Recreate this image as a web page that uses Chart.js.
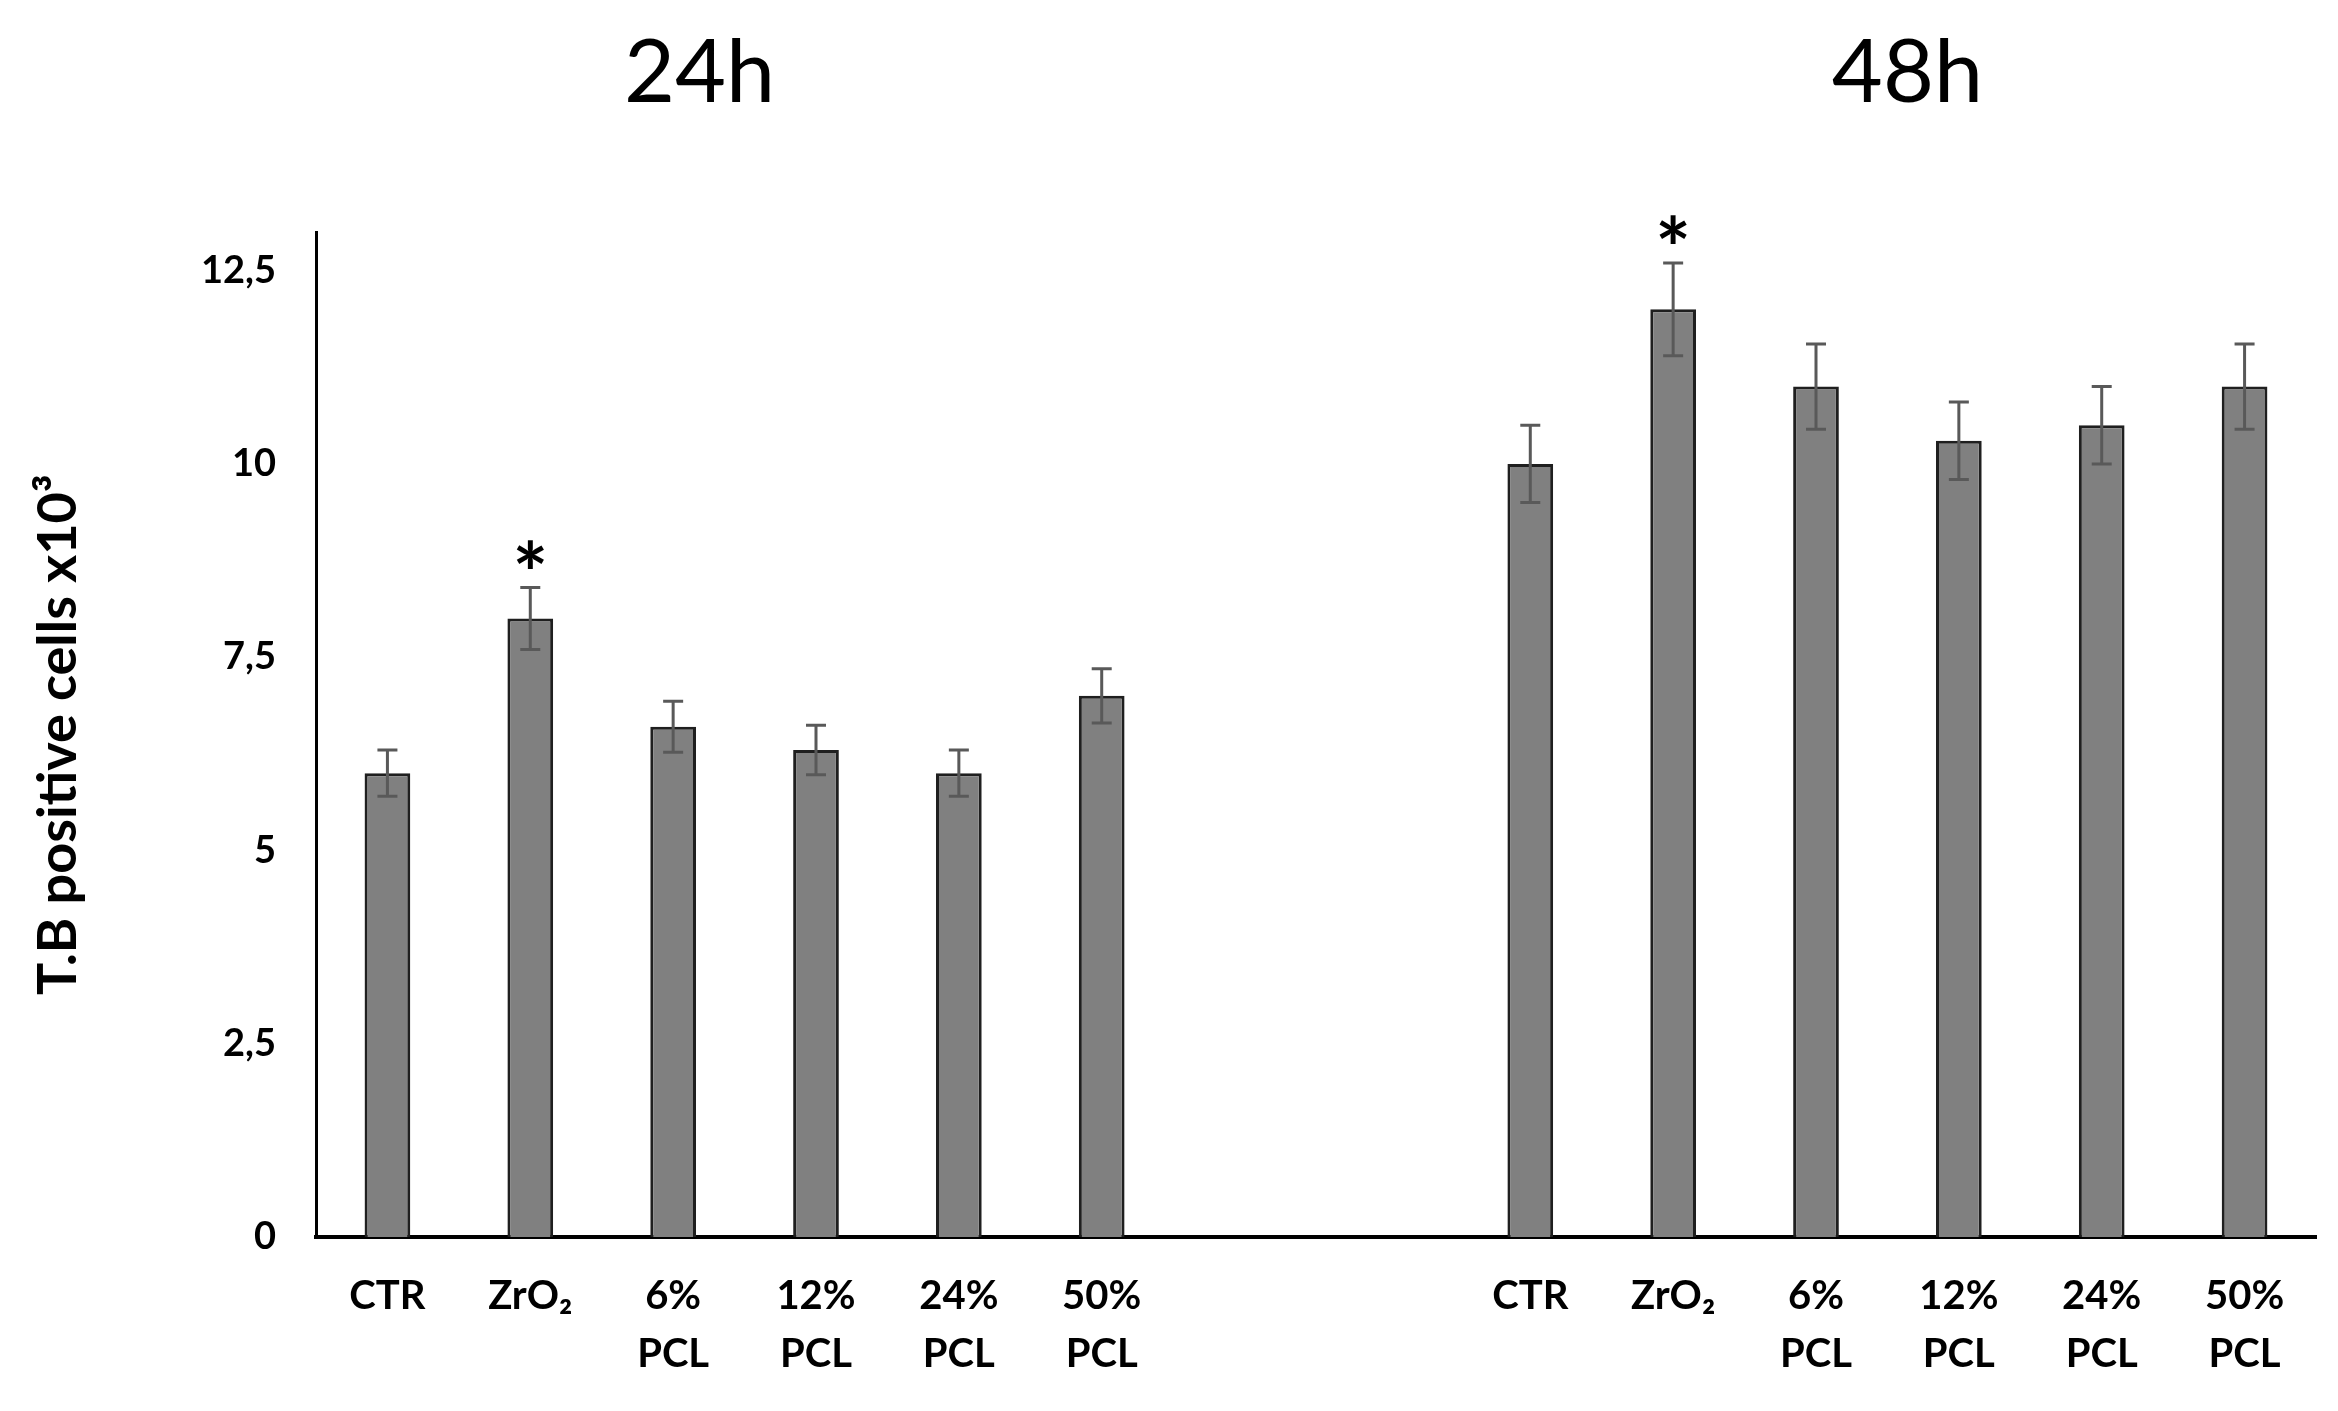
<!DOCTYPE html>
<html>
<head>
<meta charset="utf-8">
<script src="https://cdn.jsdelivr.net/npm/chart.js@4/dist/chart.umd.min.js"></script>
<style>
  html, body { margin: 0; padding: 0; background: #fff; }
  #wrap { width: 2338px; height: 1411px; }
</style>
</head>
<body>
<div id="wrap"><canvas id="tbChart" width="2338" height="1411"></canvas></div>
<script>
// categories (two empty slots separate the 24h and 48h groups)
const categories = [
    "CTR", "ZrO₂", ["6%", "PCL"], ["12%", "PCL"], ["24%", "PCL"], ["50%", "PCL"],
    "", "",
    "CTR", "ZrO₂", ["6%", "PCL"], ["12%", "PCL"], ["24%", "PCL"], ["50%", "PCL"]
];
const values = [6.0, 8.0, 6.6, 6.3, 6.0, 7.0, null, null, 10.0, 12.0, 11.0, 10.3, 10.5, 11.0];
const errors = [0.3, 0.4, 0.33, 0.32, 0.3, 0.35, null, null, 0.5, 0.6, 0.55, 0.5, 0.5, 0.55];
const significant = [false, true, false, false, false, false, false, false, false, true, false, false, false, false];
const groupTitles = ["24h", "48h"];
const groupRanges = [[0, 5], [8, 13]];
const yTicks = [0, 2.5, 5, 7.5, 10, 12.5];

const FONT = "Lato, 'Open Sans', sans-serif";
const titleShift = [-45, 20];   // small nudge so titles sit like the original

// error bars + asterisks + group titles
const extrasPlugin = {
    id: "extras",
    afterDatasetsDraw(chart) {
        const ctx = chart.ctx;
        const x = chart.scales.x;
        const y = chart.scales.y;
        ctx.save();
        ctx.strokeStyle = "#595959";
        ctx.lineWidth = 3;
        values.forEach((v, i) => {
            if (v === null) return;
            const px = x.getPixelForValue(i);
            const top = y.getPixelForValue(v + errors[i]);
            const bot = y.getPixelForValue(v - errors[i]);
            ctx.beginPath();
            ctx.moveTo(px, top); ctx.lineTo(px, bot);
            ctx.moveTo(px - 10, top); ctx.lineTo(px + 10, top);
            ctx.moveTo(px - 10, bot); ctx.lineTo(px + 10, bot);
            ctx.stroke();
            if (significant[i]) {
                ctx.fillStyle = "#000";
                ctx.font = "bold 84px " + FONT;
                ctx.textAlign = "center";
                ctx.textBaseline = "alphabetic";
                ctx.fillText("*", px, top + 16);
            }
        });
        ctx.fillStyle = "#000";
        ctx.font = "88px " + FONT;
        ctx.textAlign = "center";
        ctx.textBaseline = "alphabetic";
        groupTitles.forEach((t, g) => {
            const cx = (x.getPixelForValue(groupRanges[g][0]) + x.getPixelForValue(groupRanges[g][1])) / 2;
            ctx.fillText(t, cx + titleShift[g], 102);
        });
        ctx.restore();
    }
};

new Chart(document.getElementById("tbChart").getContext("2d"), {
    type: "bar",
    data: {
        labels: categories,
        datasets: [{
            data: values,
            backgroundColor: "#808080",
            borderColor: "#1f1f1f",
            borderWidth: 3,
            barPercentage: 1,
            categoryPercentage: 0.32
        }]
    },
    options: {
        responsive: false,
        devicePixelRatio: 1,
        animation: false,
        layout: { padding: { top: 232, right: 22, left: 0, bottom: 0 } },
        plugins: { legend: { display: false }, tooltip: { enabled: false } },
        scales: {
            x: {
                grid: { display: false, drawTicks: false },
                border: { color: "#000", width: 4 },
                ticks: {
                    color: "#000",
                    font: { family: FONT, size: 40, weight: "bold", lineHeight: 1.45 },
                    padding: 30,
                    maxRotation: 0,
                    autoSkip: false
                },
                afterFit(scale) { scale.height = 174; }
            },
            y: {
                min: 0,
                max: 13,
                grid: { display: false, drawTicks: false },
                border: { color: "#000", width: 3 },
                afterBuildTicks(scale) { scale.ticks = yTicks.map(v => ({ value: v })); },
                ticks: {
                    color: "#000",
                    padding: 40,
                    font: { family: FONT, size: 38, weight: "bold" },
                    callback: v => String(v).replace(".", ",")
                },
                title: {
                    display: true,
                    text: "T.B positive cells x10³",
                    color: "#000",
                    font: { family: FONT, size: 54, weight: "bold" },
                    padding: { top: 26, bottom: 20 }
                },
                afterFit(scale) { scale.width = 316; }
            }
        }
    },
    plugins: [extrasPlugin]
});
</script>
</body>
</html>
